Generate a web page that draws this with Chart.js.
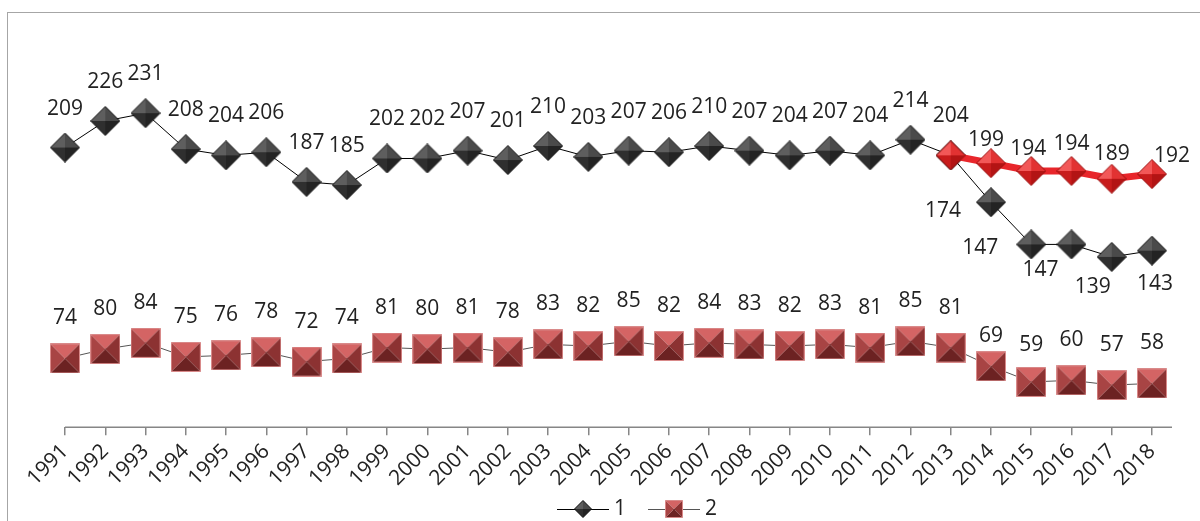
<!DOCTYPE html>
<html>
<head>
<meta charset="utf-8">
<script src="https://cdn.jsdelivr.net/npm/chart.js@4.4.0/dist/chart.umd.min.js"></script>
<style>
  body { margin: 0; background: #fff; overflow: hidden; }
  #frame { position: absolute; left: 7px; top: 12px; width: 1220px; height: 540px; border: 1.5px solid #a6a6a6; }
  #wrap { position: absolute; left: 0; top: 0; width: 1200px; height: 521px; }
</style>
</head>
<body>
<div id="frame"></div>
<div id="wrap"><canvas id="myChart" width="1200" height="521"></canvas></div>
<script>
// data
const years = ['1991','1992','1993','1994','1995','1996','1997','1998','1999','2000','2001','2002','2003','2004',
               '2005','2006','2007','2008','2009','2010','2011','2012','2013','2014','2015','2016','2017','2018'];
const series1 = [209, 226, 231, 208, 204, 206, 187, 185, 202, 202, 207, 201, 210, 203,
                 207, 206, 210, 207, 204, 207, 204, 214, 204, 174, 147, 147, 139, 143];
const series2 = [74, 80, 84, 75, 76, 78, 72, 74, 81, 80, 81, 78, 83, 82,
                 85, 82, 84, 83, 82, 83, 81, 85, 81, 69, 59, 60, 57, 58];
const series3 = [null, null, null, null, null, null, null, null, null, null, null, null, null, null,
                 null, null, null, null, null, null, null, null, 204, 199, 194, 194, 189, 192];
const legendNames = ['1', '2'];

const FONT = '"Open Sans", Lato, sans-serif';

// label offsets (x, y) from the marker, per point
const off1 = years.map(() => [0, -39]);
off1[23] = [-48, 9]; off1[24] = [-51, 4]; off1[25] = [-31, 26]; off1[26] = [-19, 30]; off1[27] = [3, 33];
const off2 = years.map(() => [0, -40]);
off2[23] = [0, -30]; off2[24] = [0, -37];
const off3 = years.map(() => null);
off3[23] = [-5, -23]; off3[24] = [-3, -22]; off3[25] = [0, -27]; off3[26] = [0, -25]; off3[27] = [20, -18];

// shaded "pyramid" markers
function pyramid(shape, size, colors, edge) {
    const c = document.createElement('canvas');
    c.width = size; c.height = size;
    const g = c.getContext('2d');
    const h = size / 2, m = 0.5;
    let pts;
    if (shape === 'diamond') pts = [[h, m], [size - m, h], [h, size - m], [m, h]];
    else pts = [[m, m], [size - m, m], [size - m, size - m], [m, size - m]];
    for (let k = 0; k < 4; k++) {
        const a = pts[k], b = pts[(k + 1) % 4];
        g.beginPath(); g.moveTo(h, h); g.lineTo(a[0], a[1]); g.lineTo(b[0], b[1]); g.closePath();
        g.fillStyle = colors[k]; g.fill();
    }
    g.beginPath(); g.moveTo(pts[0][0], pts[0][1]);
    for (let k = 1; k < 4; k++) g.lineTo(pts[k][0], pts[k][1]);
    g.closePath(); g.strokeStyle = edge; g.lineWidth = 1; g.stroke();
    return c;
}

const blackColors = ['#4a4a4a', '#232323', '#2f2f2f', '#5e5e5e'];
const redColors = ['#e23232', '#b31414', '#c81c1c', '#f25858'];
const squareColors = ['#d46464', '#8c3232', '#6c2222', '#a84444'];

const blackDiamond = pyramid('diamond', 30, blackColors, '#0e0e0e');
const redDiamond = pyramid('diamond', 30, redColors, '#9c1010');
const redSquare = pyramid('square', 30, squareColors, '#d98a8a');
const smallDiamond = pyramid('diamond', 18, blackColors, '#0e0e0e');
const smallSquare = pyramid('square', 18, squareColors, '#d98a8a');

const pointLabels = {
    id: 'pointLabels',
    afterDatasetsDraw(chart) {
        const ctx = chart.ctx;
        ctx.save();
        ctx.font = '21px ' + FONT;
        ctx.fillStyle = '#222';
        ctx.textAlign = 'center';
        ctx.textBaseline = 'middle';
        chart.data.datasets.forEach((ds, i) => {
            const meta = chart.getDatasetMeta(i);
            meta.data.forEach((pt, j) => {
                const v = ds.data[j];
                const o = ds.labelOffsets[j];
                if (v == null || !o) return;
                ctx.fillText(String(v), pt.x + o[0], pt.y + o[1]);
            });
        });
        ctx.restore();
    }
};

const axisLine = {
    id: 'axisLine',
    beforeDatasetsDraw(chart) {
        const a = chart.chartArea, ctx = chart.ctx;
        ctx.save();
        ctx.strokeStyle = '#868686';
        ctx.lineWidth = 1.5;
        ctx.beginPath();
        ctx.moveTo(a.left, a.bottom);
        ctx.lineTo(a.right + 20, a.bottom);
        ctx.stroke();
        ctx.restore();
    }
};

// legend: line with marker, then the name
const lineLegend = {
    id: 'lineLegend',
    afterDraw(chart) {
        const ctx = chart.ctx;
        const y = 509;
        const items = [
            { x: 557, marker: smallDiamond, line: '#000', text: legendNames[0] },
            { x: 648, marker: smallSquare, line: '#555', text: legendNames[1] }
        ];
        ctx.save();
        ctx.font = '21px ' + FONT;
        ctx.fillStyle = '#222';
        ctx.textAlign = 'left';
        ctx.textBaseline = 'middle';
        items.forEach(it => {
            ctx.strokeStyle = it.line;
            ctx.lineWidth = 1;
            ctx.beginPath();
            ctx.moveTo(it.x, y + 0.5);
            ctx.lineTo(it.x + 52, y + 0.5);
            ctx.stroke();
            ctx.drawImage(it.marker, it.x + 17, y - 9);
            ctx.fillText(it.text, it.x + 57, y);
        });
        ctx.restore();
    }
};

const ctx = document.getElementById('myChart').getContext('2d');

new Chart(ctx, {
    type: 'line',
    data: {
        labels: years,
        datasets: [{
            label: '1',
            data: series1,
            borderColor: '#000',
            borderWidth: 1,
            pointStyle: blackDiamond,
            pointRadius: 14,
            order: 1,
            labelOffsets: off1
        },
        {
            label: '2',
            data: series2,
            borderColor: '#555',
            borderWidth: 1,
            pointStyle: redSquare,
            pointRadius: 14,
            order: 2,
            labelOffsets: off2
        },
        {
            label: '3',
            data: series3,
            borderColor: '#e8262b',
            borderWidth: 7,
            pointStyle: redDiamond,
            pointRadius: 14,
            order: 0,
            labelOffsets: off3
        }]
    },
    options: {
        responsive: false,
        animation: false,
        layout: { padding: { left: 65, right: 48, top: 17, bottom: 26 } },
        scales: {
            y: { display: false, min: 30, max: 290 },
            x: {
                offset: false,
                border: { display: false },
                grid: { drawOnChartArea: false, drawTicks: true, tickLength: 8, color: '#868686', lineWidth: 1.5 },
                ticks: {
                    autoSkip: false,
                    minRotation: 45,
                    maxRotation: 45,
                    padding: 4,
                    color: '#222',
                    font: { family: FONT, size: 21 }
                }
            }
        },
        plugins: {
            tooltip: { enabled: false },
            legend: { display: false }
        }
    },
    plugins: [axisLine, pointLabels, lineLegend]
});
</script>
</body>
</html>
